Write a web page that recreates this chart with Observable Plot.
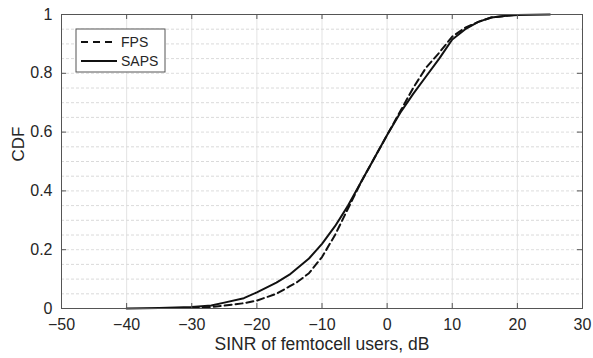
<!DOCTYPE html>
<html><head><meta charset="utf-8">
<script src="https://cdn.jsdelivr.net/npm/d3@7"></script>
<script src="https://cdn.jsdelivr.net/npm/@observablehq/plot@0.6"></script>
<style>body{margin:0;background:#fff;} svg{font-family:"Liberation Sans",Arial,sans-serif;}</style>
</head><body><div id="chart"></div>
<script>
const sapsX = [-40,-35,-30,-27,-25,-22,-20,-17,-15,-13.8,-12,-10,-8,-6,-4,-2,0,2,4,6,8,10,12,14,16,18,20,25];
const sapsY = [0,0.002,0.005,0.01,0.02,0.035,0.055,0.088,0.115,0.137,0.17,0.22,0.28,0.35,0.43,0.51,0.59,0.665,0.73,0.79,0.85,0.915,0.95,0.975,0.99,0.995,0.998,1.0];
const fpsX = [-30,-27,-25,-22,-20,-17,-15,-13.8,-12,-10,-8,-6,-4,-2,0,2,4,6,8,10,12,14,16,18,20];
const fpsY = [0.002,0.005,0.01,0.018,0.027,0.05,0.075,0.09,0.12,0.175,0.25,0.34,0.43,0.51,0.59,0.67,0.75,0.82,0.87,0.925,0.955,0.975,0.99,0.995,1.0];
const xTicks = [-50,-40,-30,-20,-10,0,10,20,30];
const yTicks = [0,0.2,0.4,0.6,0.8,1];
const yMinor = d3.range(0,21).map(i=>i*0.05).filter(v=>Math.abs(v*5-Math.round(v*5))>1e-6);
const seriesNames = ["FPS","SAPS"];

const saps = sapsX.map((x,i)=>({x,y:sapsY[i]}));
const fps = fpsX.map((x,i)=>({x,y:fpsY[i]}));

const W=593,H=358,ML=61,MR=11,MT=14,MB=50;
const tk = 5/(H-MT-MB);
const tkx = 80*5/(W-ML-MR);

const chart = Plot.plot({
  width: W, height: H,
  marginLeft: ML, marginRight: MR, marginTop: MT, marginBottom: MB,
  style: {fontFamily: '"Liberation Sans", Arial, sans-serif', fontSize: "16px", color:"#262626", background:"#fff"},
  x: {domain: [-50,30], ticks: xTicks, label: null},
  y: {domain: [0,1], ticks: yTicks, label: null},
  marks: [
    Plot.ruleY(yMinor, {y: d=>d, stroke:"#d0d0d0", strokeWidth:0.8, strokeDasharray:"3,2"}),
    Plot.ruleY(yTicks.slice(1,-1), {y: d=>d, stroke:"#d4d4d4", strokeWidth:0.8, strokeDasharray:"3,2"}),
    Plot.ruleX(xTicks.slice(1,-1), {x: d=>d, stroke:"#dcdcdc", strokeWidth:0.8}),
    Plot.line(fps, {x:"x", y:"y", stroke:"#111", strokeWidth:2, strokeDasharray:"7,4"}),
    Plot.line(saps, {x:"x", y:"y", stroke:"#111", strokeWidth:2}),
    Plot.frame({stroke:"#555", strokeWidth:1}),
    Plot.ruleX(xTicks, {x:d=>d, y1:0, y2:tk, stroke:"#555"}),
    Plot.ruleX(xTicks, {x:d=>d, y1:1-tk, y2:1, stroke:"#555"}),
    Plot.ruleY(yTicks, {y:d=>d, x1:-50, x2:-50+tkx, stroke:"#555"}),
    Plot.ruleY(yTicks, {y:d=>d, x1:30-tkx, x2:30, stroke:"#555"}),
    Plot.axisX(xTicks, {tickSize:0, tickPadding:10, fontSize:16, fill:"#262626"}),
    Plot.axisY(yTicks, {tickSize:0, tickPadding:9, fontSize:16, fill:"#262626", tickFormat: d=>String(d)}),
    Plot.text(["SINR of femtocell users, dB"], {frameAnchor:"bottom", dy:41, fontSize:17.5, fill:"#262626"}),
    Plot.text(["CDF"], {frameAnchor:"left", dx:-43, rotate:-90, fontSize:17, fill:"#262626"})
  ]
});
document.getElementById("chart").appendChild(chart);

// legend inside plot, top-left
const svg = d3.select(chart);
const g = svg.append("g").attr("transform","translate(76,29)").attr("text-anchor","start");
g.append("rect").attr("width",89).attr("height",43).attr("fill","#fff").attr("stroke","#555").attr("stroke-width",1);
seriesNames.forEach((name,i)=>{
  const yy = 13 + i*19;
  g.append("line").attr("x1",5).attr("x2",41).attr("y1",yy).attr("y2",yy)
    .attr("stroke","#111").attr("stroke-width",2).attr("stroke-dasharray", i===0?"7,5":null);
  g.append("text").attr("x",45).attr("y",yy).attr("dy","0.35em").attr("text-anchor","start")
    .attr("font-size",14).attr("fill","#262626").text(name);
});
</script></body></html>
